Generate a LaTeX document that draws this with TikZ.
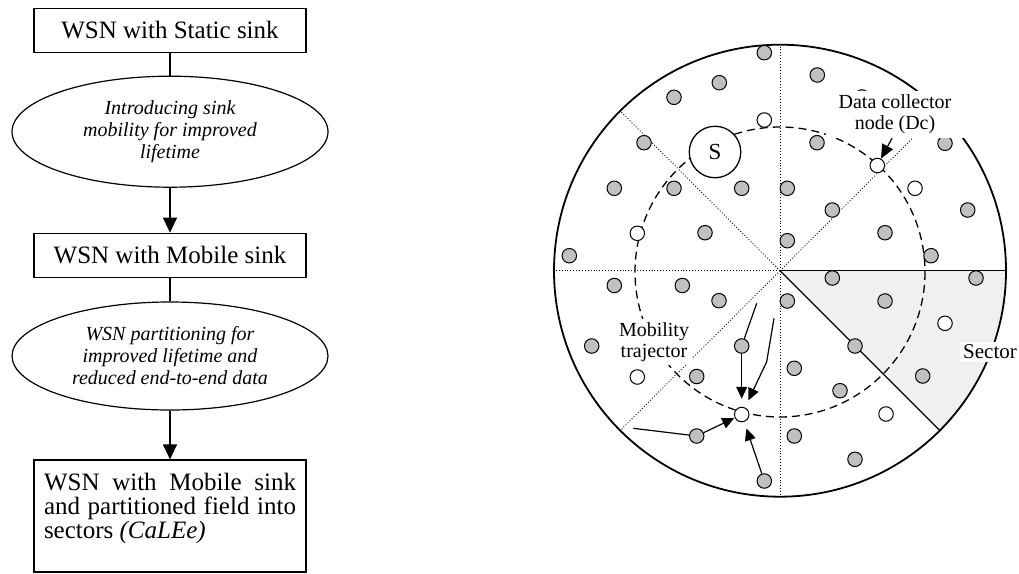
\documentclass[tikz,border=0pt]{standalone}
\usepackage{fontspec}
\setmainfont{Liberation Serif}
\usetikzlibrary{shapes.geometric,arrows.meta}
\definecolor{nodegray}{RGB}{192,192,192}
\definecolor{sectorfill}{RGB}{240,240,240}
\begin{document}
\begin{tikzpicture}[x=1pt,y=-1pt,
  flowbox/.style={draw, line width=1.2pt, minimum width=272pt, minimum height=44.5pt, inner sep=0pt, font=\fontsize{25}{25}\selectfont},
  flowell/.style={draw, ellipse, line width=1.2pt, minimum width=316pt, inner sep=0pt, align=center, font=\fontsize{20}{22}\selectfont\itshape},
  flowarrow/.style={line width=1.2pt, -{Triangle[length=15pt,width=14pt]}},
  sensor/.style={circle, draw, line width=1pt, fill=nodegray, minimum size=14.5pt, inner sep=0pt},
  opensensor/.style={sensor, fill=white},
  sinknode/.style={circle, draw, line width=1.3pt, fill=white, minimum size=51.5pt, inner sep=0pt, font=\fontsize{23}{23}\selectfont},
  divider/.style={line width=0.9pt, dotted},
  sectoredge/.style={line width=1.3pt},
  route/.style={line width=1.2pt},
  routearrow/.style={route, -{Triangle[length=12pt,width=11pt]}},
  tag/.style={fill=white, inner sep=3pt, align=center, font=\fontsize{20}{21}\selectfont},
]
\useasboundingbox (0,0) rectangle (1019,573);

% ---------------- flow of design steps ----------------
\node[flowbox] (b1) at (170,30.5) {WSN with Static sink};
\node[flowell, minimum height=111pt] (e1) at (170,131.7)
  {Introducing sink\\mobility for improved\\lifetime};
\node[flowbox] (b2) at (170,255.5) {WSN with Mobile sink};
\node[flowell, minimum height=108pt] (e2) at (170,356)
  {WSN partitioning for\\improved lifetime and\\reduced end-to-end data};
\node[flowbox, minimum height=112pt] (b3) at (170,516) {};
\node[inner sep=0pt, align=left, font=\fontsize{25}{24}\selectfont] (b3text) at (170,508.5)
  {\hbox to 252pt{WSN\hfill with\hfill Mobile\hfill sink}\\
   \hbox to 252pt{and\hfill partitioned\hfill field\hfill into}\\
   sectors \textit{(CaLEe)}};

\draw[line width=1.2pt] (b1) -- (e1);
\draw[flowarrow] (e1) -- (b2);
\draw[line width=1.2pt] (b2) -- (e2);
\draw[flowarrow] (e2) -- (b3);

% ---------------- partitioned sensor field ----------------
\coordinate (O) at (780,270.7);
\coordinate (T) at (780,272);

% shaded sector
\fill[sectorfill] (O) -- +(0:226) arc[start angle=0, end angle=45, radius=226] -- cycle;

% field boundary
\draw[line width=1.8pt] (O) circle[radius=226];

% sector dividers
\draw[divider] (O) -- +(180:226);
\draw[divider] (O) -- +(90:226);
\draw[divider] (O) -- +(270:226);
\draw[divider] (O) -- +(225:226);
\draw[divider] (O) -- +(315:226);
\draw[divider] (O) -- +(135:226);
\draw[sectoredge] (O) -- +(0:226);
\draw[sectoredge] (O) -- +(45:226);

% sink trajectory
\draw[line width=1.3pt, dash pattern=on 8pt off 5pt] (T) circle[radius=145];

% ordinary sensor nodes
\foreach \x/\y [count=\i] in {
  764.3/52.7, 719.3/82.7, 674/97.3, 644/142.7, 614.3/188.3, 674/188.3,
  741.7/188.3, 705/232.7, 569.3/255.7,
  787.3/188.3, 787.3/240.7, 817.3/75, 862/97, 817/142.7, 945/143.3,
  832.3/210, 967.7/210, 885/232.7, 931/255.7,
  832.3/278, 976/278, 787.3/301, 885/301, 855/346, 794.3/368.3,
  840/390.7, 922.7/376, 794.3/436, 855/459.3,
  614.3/285.5, 682.3/285.5, 719/300.7, 591.7/346, 696.7/376.5}
  \node[sensor] (s\i) at (\x,\y) {};

% data collector nodes
\foreach \x/\y [count=\i] in {
  764.3/120, 637.3/233.3, 915/188.3, 945/323.3, 886/414, 637.3/377}
  \node[opensensor] (c\i) at (\x,\y) {};

% nodes on the routes towards the collector
\node[sensor] (gA) at (741.7,346) {};
\node[sensor] (gC) at (696.7,436) {};
\node[sensor] (gD) at (764.3,481) {};
\node[opensensor] (M) at (741.7,414.5) {};
\node[opensensor] (Dc) at (877.3,165.5) {};

% mobile sink
\node[sinknode] (S) at (715,152) {S};

% multi-hop routes
\coordinate (tA) at (756.7,303.3);
\coordinate (tB) at (774,318.3);
\coordinate (tBk) at (766.7,361.7);
\coordinate (tC) at (633.3,428.3);
\draw[route] (tA) -- (gA);
\draw[routearrow, shorten >=8pt] (gA) -- (M);
\draw[routearrow, shorten >=8pt] (tB) -- (tBk) -- (M);
\draw[route] (tC) -- (gC);
\draw[routearrow, shorten >=0.5pt] (gC) -- (M);
\draw[routearrow, shorten >=7pt] (gD) -- (M);

% labels
\node[tag, minimum width=138pt, minimum height=47pt, inner sep=0pt] (dclabel) at (895,114.5)
  {Data collector\\node (Dc)};
\draw[route, -{Triangle[length=14pt,width=12pt]}] ([xshift=-3pt]dclabel.south) -- (Dc);
\node[tag] (mlabel) at (654,342) {Mobility\\trajector};
\node[tag, font=\fontsize{21}{21}\selectfont] (seclabel) at (990,352) {Sector};
\end{tikzpicture}
\end{document}
